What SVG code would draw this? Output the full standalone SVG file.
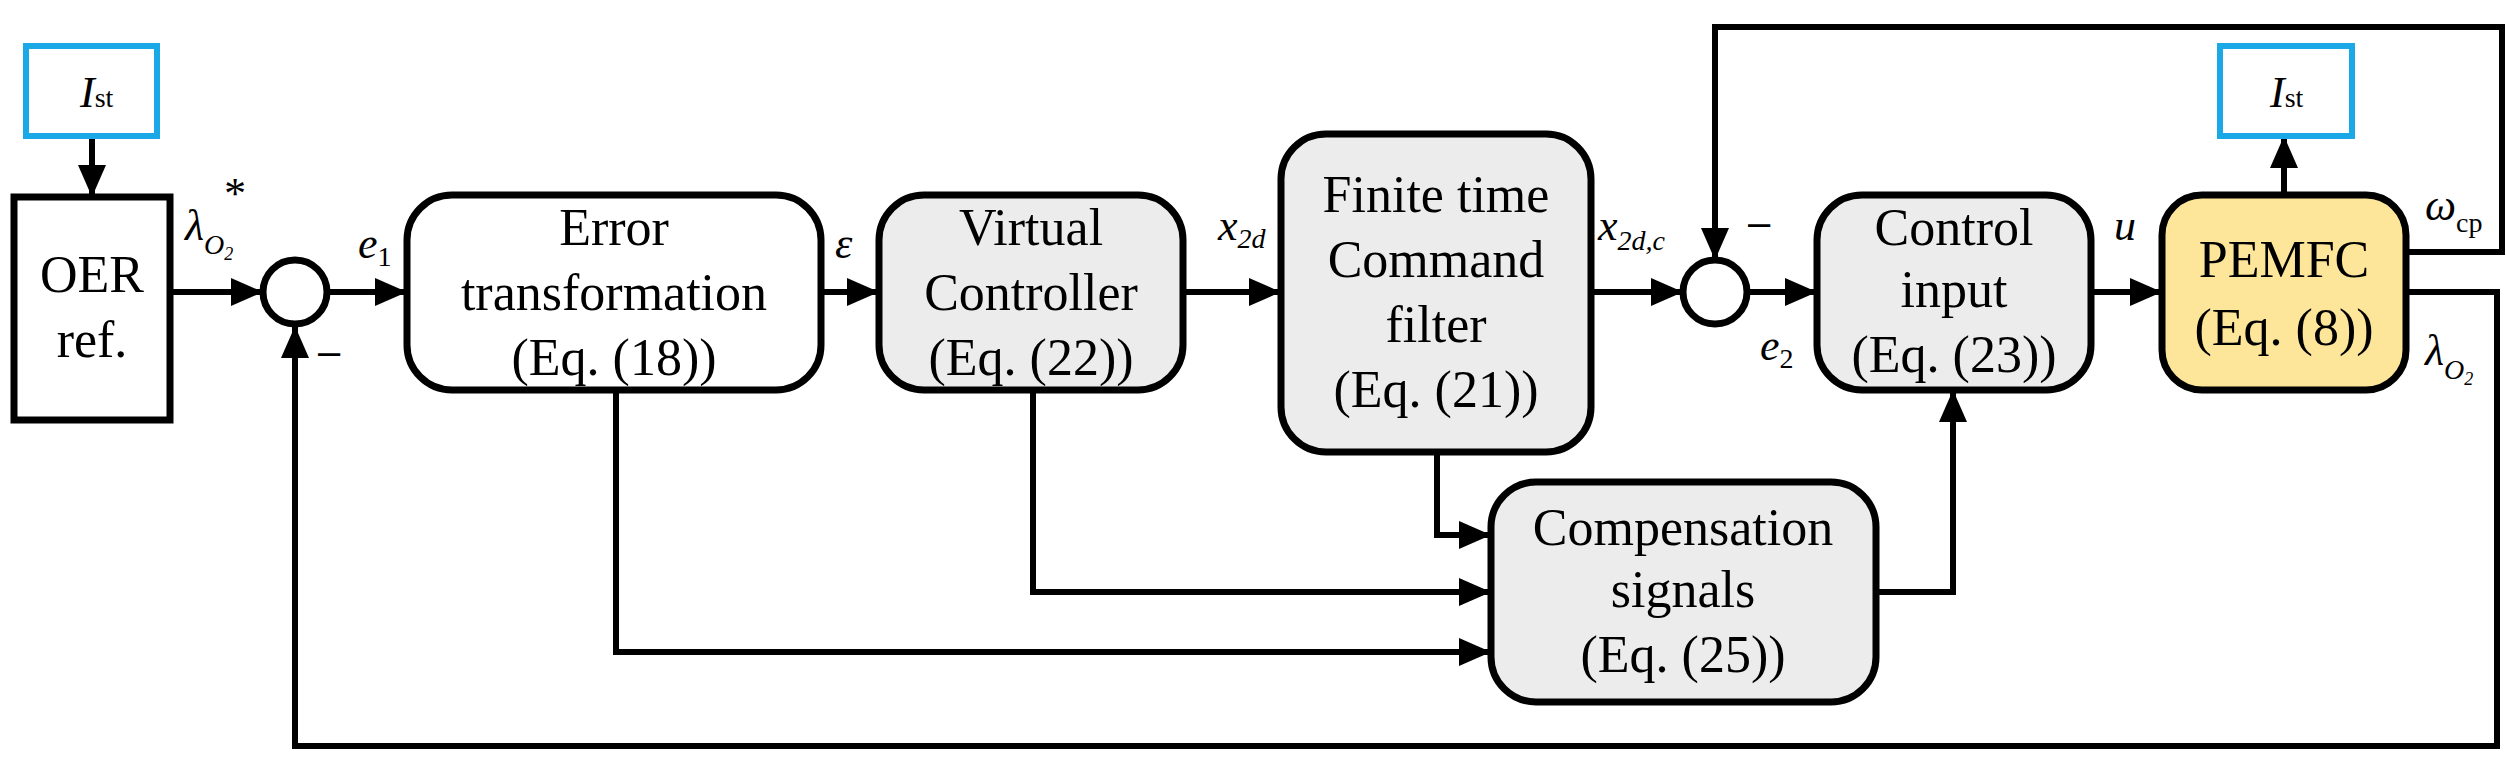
<svg xmlns="http://www.w3.org/2000/svg" width="2506" height="768" viewBox="0 0 2506 768">
<style>
.b{stroke:#000;stroke-width:7;}
.w{fill:#fff}.g{fill:#ececec}.y{fill:#fde59a}
.ist{fill:#fff;stroke:#1aa9e6;stroke-width:6}
.t{font-family:"Liberation Serif",serif;font-size:52px;text-anchor:middle;fill:#000}
.l{font-family:"Liberation Serif",serif;font-size:44px;font-style:italic;fill:#000}
.s{font-size:28px}
.c{fill:none;stroke:#000;stroke-width:6}
</style>
<defs>
<marker id="a" markerUnits="userSpaceOnUse" markerWidth="34" markerHeight="30" refX="32" refY="14" orient="auto"><path d="M0,0 L32,14 L0,28 z" fill="#000"/></marker>
</defs>
<g id="connectors" class="c">
<path d="M92,136 V197" marker-end="url(#a)"/>
<path d="M170,292 H263" marker-end="url(#a)"/>
<path d="M327,292 H407" marker-end="url(#a)"/>
<path d="M821,292 H879" marker-end="url(#a)"/>
<path d="M1183,292 H1281" marker-end="url(#a)"/>
<path d="M1591,292 H1683" marker-end="url(#a)"/>
<path d="M1747,292 H1817" marker-end="url(#a)"/>
<path d="M2091,292 H2162" marker-end="url(#a)"/>
<path d="M2284,195 V136" marker-end="url(#a)"/>
<path d="M2406,252 H2502 V27 H1715 V260" marker-end="url(#a)"/>
<path d="M2406,292 H2497 V746 H295 V326" marker-end="url(#a)"/>
<path d="M1437,452 V535 H1491" marker-end="url(#a)"/>
<path d="M1033,390 V592 H1491" marker-end="url(#a)"/>
<path d="M616,390 V652 H1491" marker-end="url(#a)"/>
<path d="M1876,592 H1953 V390" marker-end="url(#a)"/>
</g>
<g id="ist1"><rect class="ist" x="26" y="46" width="131" height="90"/><text class="l" x="80" y="107" font-size="48">I<tspan class="s" font-style="normal" dy="0">st</tspan></text></g>
<g id="oer"><rect class="b w" x="14" y="197" width="156" height="223"/><text class="t" x="92" y="292">OER</text><text class="t" x="92" y="357">ref.</text></g>
<g id="sum1"><circle class="b w" cx="295" cy="292" r="32" stroke-width="6"/></g>
<g id="err"><rect class="b w" x="407" y="195" width="414" height="195" rx="45"/><text class="t" x="614" y="245">Error</text><text class="t" x="614" y="310">transformation</text><text class="t" x="614" y="375">(Eq. (18))</text></g>
<g id="virt"><rect class="b g" x="879" y="195" width="304" height="195" rx="45"/><text class="t" x="1031" y="245">Virtual</text><text class="t" x="1031" y="310">Controller</text><text class="t" x="1031" y="375">(Eq. (22))</text></g>
<g id="fin"><rect class="b g" x="1281" y="134" width="310" height="318" rx="45"/><text class="t" x="1436" y="212">Finite time</text><text class="t" x="1436" y="277">Command</text><text class="t" x="1436" y="342">filter</text><text class="t" x="1436" y="407">(Eq. (21))</text></g>
<g id="sum2"><circle class="b w" cx="1715" cy="292" r="32" stroke-width="6"/></g>
<g id="ctrl"><rect class="b g" x="1817" y="195" width="274" height="195" rx="45"/><text class="t" x="1954" y="245">Control</text><text class="t" x="1954" y="307">input</text><text class="t" x="1954" y="372">(Eq. (23))</text></g>
<g id="pem"><rect class="b y" x="2162" y="195" width="244" height="195" rx="40"/><text class="t" x="2284" y="277">PEMFC</text><text class="t" x="2284" y="345">(Eq. (8))</text></g>
<g id="ist2"><rect class="ist" x="2220" y="46" width="132" height="90"/><text class="l" x="2270" y="107" font-size="48">I<tspan class="s" font-style="normal">st</tspan></text></g>
<g id="comp"><rect class="b g" x="1491" y="482" width="385" height="220" rx="45"/><text class="t" x="1683" y="545">Compensation</text><text class="t" x="1683" y="607">signals</text><text class="t" x="1683" y="672">(Eq. (25))</text></g>
<g id="labels">
<text class="l" x="185" y="240">λ<tspan class="s" dy="14">O</tspan><tspan font-size="18" dy="6">2</tspan></text>
<text class="l" x="222" y="208" font-size="30">*</text>
<text x="318" y="365" font-family="Liberation Sans,sans-serif" font-size="40">–</text>
<text class="l" x="358" y="258">e<tspan class="s" font-style="normal" dy="8">1</tspan></text>
<text class="l" x="835" y="258">ε</text>
<text class="l" x="1218" y="240">x<tspan class="s" dy="8">2d</tspan></text>
<text class="l" x="1598" y="240">x<tspan class="s" dy="10">2d,c</tspan></text>
<text x="1748" y="236" font-family="Liberation Sans,sans-serif" font-size="40">–</text>
<text class="l" x="1760" y="360">e<tspan class="s" font-style="normal" dy="8">2</tspan></text>
<text class="l" x="2114" y="240">u</text>
<text class="l" x="2425" y="220">ω<tspan class="s" font-style="normal" dy="12">cp</tspan></text>
<text class="l" x="2425" y="365">λ<tspan class="s" dy="14">O</tspan><tspan font-size="18" dy="6">2</tspan></text>
</g>
</svg>
